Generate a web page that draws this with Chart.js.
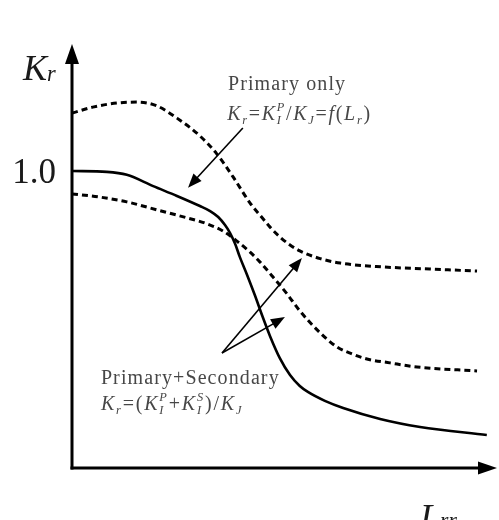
<!DOCTYPE html>
<html><head><meta charset="utf-8">
<script src="https://cdn.jsdelivr.net/npm/chart.js@4"></script>
<style>html,body{margin:0;padding:0;background:#fff;overflow:hidden}canvas{display:block}</style>
</head><body>
<canvas id="c" width="499" height="520"></canvas>
<script>
// ---- data (x: L_r in arbitrary units 0..10, y: K_r) ----
const primaryOnlyX = [0, 0.82, 1.29, 1.91, 2.47, 3.01, 3.25, 3.44, 3.60, 3.72, 3.84, 3.95, 4.12, 4.31, 4.47, 4.66, 4.89, 5.13, 5.36, 5.55, 5.95, 6.38, 7.25, 8.19, 9.76];
const primaryOnlyY = [1.0, 0.997, 0.987, 0.949, 0.916, 0.882, 0.865, 0.845, 0.818, 0.791, 0.754, 0.710, 0.650, 0.579, 0.515, 0.444, 0.370, 0.313, 0.276, 0.256, 0.226, 0.202, 0.165, 0.138, 0.111];
const secUpperX = [0, 0.49, 1.06, 1.55, 2.00, 2.47, 3.01, 3.41, 3.79, 4.19, 4.42, 4.66, 4.89, 5.13, 5.36, 5.84, 6.31, 7.32, 8.42, 9.53];
const secUpperY = [1.195, 1.215, 1.229, 1.232, 1.219, 1.178, 1.118, 1.057, 0.980, 0.892, 0.852, 0.811, 0.778, 0.751, 0.731, 0.705, 0.690, 0.677, 0.670, 0.663];
const secLowerX = [0, 0.66, 1.29, 2.00, 2.71, 3.18, 3.55, 3.88, 4.19, 4.42, 4.73, 5.06, 5.36, 5.84, 6.24, 6.59, 6.94, 7.48, 8.12, 9.53];
const secLowerY = [0.923, 0.912, 0.896, 0.869, 0.842, 0.822, 0.798, 0.764, 0.727, 0.694, 0.643, 0.586, 0.529, 0.455, 0.407, 0.384, 0.367, 0.354, 0.340, 0.327];
const yTickValues = [1.0];
const yTickLabels = ['1.0'];
const xMin = 0, xMax = 10, yMin = 0, yMax = 1.4276;

// annotation arrows (data units)
const arrowPrimaryOnly = { from: [4.02, 1.145], to: [2.73, 0.944] };
const arrowsSecondary = [
  { from: [3.53, 0.387], to: [5.41, 0.707] },
  { from: [3.53, 0.387], to: [5.01, 0.508] }
];
// annotation labels (anchor in data units: left, baseline)
const labelPrimaryOnly = { at: [3.67, 1.273], sp: 1.1, parts: [{ t: 'Primary only' }] };
const formulaPrimaryOnly = { at: [3.65, 1.172], sp: 1.7, parts: [
  { t: 'K', i: 1 }, { t: 'r', i: 1, pos: 'sub' }, { t: '=' }, { t: 'K', i: 1 }, { t: 'I', i: 1, pos: 'sub' }, { t: 'P', i: 1, pos: 'sup', stack: 1 },
  { t: '/' }, { t: 'K', i: 1 }, { t: 'J', i: 1, pos: 'sub' }, { t: '=' }, { t: 'f', i: 1 }, { t: '(' }, { t: 'L', i: 1 }, { t: 'r', i: 1, pos: 'sub' }, { t: ')' }
] };
const labelSecondary = { at: [0.68, 0.283], sp: 1.1, parts: [{ t: 'Primary+Secondary' }] };
const formulaSecondary = { at: [0.68, 0.195], sp: 1.8, parts: [
  { t: 'K', i: 1 }, { t: 'r', i: 1, pos: 'sub' }, { t: '=' }, { t: '(' }, { t: 'K', i: 1 }, { t: 'I', i: 1, pos: 'sub' }, { t: 'P', i: 1, pos: 'sup', stack: 1 },
  { t: '+' }, { t: 'K', i: 1 }, { t: 'I', i: 1, pos: 'sub' }, { t: 'S', i: 1, pos: 'sup', stack: 1 }, { t: ')' }, { t: '/' }, { t: 'K', i: 1 }, { t: 'J', i: 1, pos: 'sub' }
] };
const yAxisTitle = [{ t: 'K', i: 1 }, { t: 'r', i: 1, pos: 'sub' }];
const xAxisTitle = [{ t: 'L', i: 1 }, { t: 'rr', i: 1, pos: 'sub' }];

const FONT = '"Liberation Serif", "Times New Roman", serif';

function drawRich(ctx, x, y, parts, size, color, spacing, subScale, subDy) {
  let cx = x, lastX = x;
  ctx.fillStyle = color; ctx.textBaseline = 'alphabetic'; ctx.textAlign = 'left';
  for (const p of parts) {
    const pos = p.pos || 'n';
    const s = pos === 'n' ? size : size * (subScale || 0.62);
    const dy = pos === 'sub' ? size * (subDy !== undefined ? subDy : 0.2) : pos === 'sup' ? -size * 0.45 : 0;
    ctx.font = (p.i ? 'italic ' : '') + s + 'px ' + FONT;
    if ('letterSpacing' in ctx) ctx.letterSpacing = (spacing || 0) + 'px';
    const w = ctx.measureText(p.t).width;
    const px = p.stack ? lastX : cx;
    ctx.fillText(p.t, px, y + dy);
    if (p.stack) { cx = Math.max(cx, px + w); } else { lastX = cx; cx = cx + w; }
  }
  if ('letterSpacing' in ctx) ctx.letterSpacing = '0px';
}

function arrowHead(ctx, x1, y1, x2, y2, len, half) {
  const a = Math.atan2(y2 - y1, x2 - x1);
  ctx.beginPath();
  ctx.moveTo(x2, y2);
  ctx.lineTo(x2 - len * Math.cos(a) + half * Math.sin(a), y2 - len * Math.sin(a) - half * Math.cos(a));
  ctx.lineTo(x2 - len * Math.cos(a) - half * Math.sin(a), y2 - len * Math.sin(a) + half * Math.cos(a));
  ctx.closePath();
  ctx.fill();
}

const decor = {
  id: 'decor',
  afterDatasetsDraw(chart) {
    const ctx = chart.ctx, xs = chart.scales.x, ys = chart.scales.y, ca = chart.chartArea;
    const X = v => xs.getPixelForValue(v), Y = v => ys.getPixelForValue(v);
    const ox = X(xMin), oy = Y(yMin);
    ctx.save();
    // axes
    ctx.strokeStyle = '#000'; ctx.fillStyle = '#000'; ctx.lineWidth = 3; ctx.lineCap = 'butt';
    ctx.beginPath(); ctx.moveTo(ox, oy + 1.5); ctx.lineTo(ox, ca.top + 12); ctx.stroke();
    arrowHead(ctx, ox, oy, ox, ca.top, 20, 7);
    ctx.beginPath(); ctx.moveTo(ox - 1.5, oy); ctx.lineTo(ca.right - 12, oy); ctx.stroke();
    arrowHead(ctx, ox, oy, ca.right, oy, 19, 6.5);
    // annotation arrows
    ctx.lineWidth = 1.6;
    const allArrows = [arrowPrimaryOnly, ...arrowsSecondary];
    for (const a of allArrows) {
      const x1 = X(a.from[0]), y1 = Y(a.from[1]), x2 = X(a.to[0]), y2 = Y(a.to[1]);
      const ang = Math.atan2(y2 - y1, x2 - x1);
      ctx.beginPath(); ctx.moveTo(x1, y1); ctx.lineTo(x2 - 8 * Math.cos(ang), y2 - 8 * Math.sin(ang)); ctx.stroke();
      arrowHead(ctx, x1, y1, x2, y2, 14, 5.5);
    }
    // y tick labels
    ctx.fillStyle = '#1a1a1a'; ctx.font = '35px ' + FONT; ctx.textAlign = 'right'; ctx.textBaseline = 'alphabetic';
    yTickValues.forEach((v, i) => ctx.fillText(yTickLabels[i], ox - 16, Y(v) + 12));
    // axis titles
    drawRich(ctx, ox - 49, ca.top + 36, yAxisTitle, 36, '#1a1a1a', 0, 0.62, 0.03);
    drawRich(ctx, ca.right - 77, oy + 61, xAxisTitle, 36, '#1a1a1a', 0, 0.6, -0.05);
    // annotation labels
    const col = '#474747';
    for (const L of [labelPrimaryOnly, formulaPrimaryOnly, labelSecondary, formulaSecondary]) {
      drawRich(ctx, X(L.at[0]), Y(L.at[1]), L.parts, 20, col, L.sp);
    }
    ctx.restore();
  }
};

const toPts = (xa, ya) => xa.map((x, i) => ({ x, y: ya[i] }));

new Chart(document.getElementById('c'), {
  type: 'line',
  data: {
    datasets: [
      { label: 'Primary only', data: toPts(primaryOnlyX, primaryOnlyY), borderColor: '#000', borderWidth: 2.6, cubicInterpolationMode: 'monotone', fill: false },
      { label: 'Primary+Secondary (upper)', data: toPts(secUpperX, secUpperY), borderColor: '#000', borderWidth: 3, borderDash: [6, 4], cubicInterpolationMode: 'monotone', fill: false },
      { label: 'Primary+Secondary (lower)', data: toPts(secLowerX, secLowerY), borderColor: '#000', borderWidth: 3, borderDash: [6, 4], cubicInterpolationMode: 'monotone', fill: false }
    ]
  },
  options: {
    responsive: false, devicePixelRatio: 1, animation: false,
    layout: { padding: { left: 72, right: 2, top: 44, bottom: 52 } },
    elements: { point: { radius: 0, hoverRadius: 0 } },
    scales: {
      x: { type: 'linear', min: xMin, max: xMax, display: false },
      y: { type: 'linear', min: yMin, max: yMax, display: false }
    },
    plugins: { legend: { display: false }, tooltip: { enabled: false } },
    events: []
  },
  plugins: [decor]
});
</script>
</body></html>
